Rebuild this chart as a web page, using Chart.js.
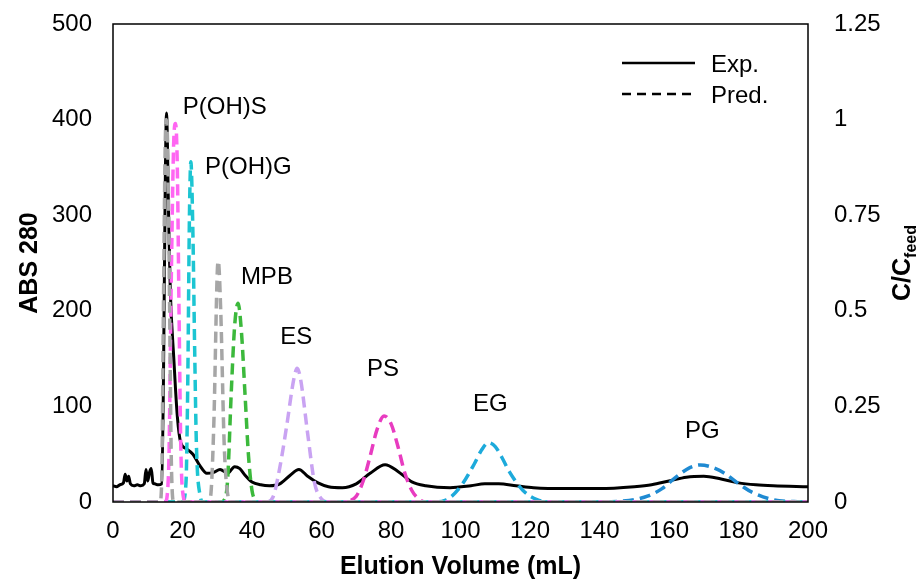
<!DOCTYPE html>
<html>
<head>
<meta charset="utf-8">
<script src="https://cdn.jsdelivr.net/npm/chart.js@4.4.1/dist/chart.umd.min.js"></script>
<style>
html,body{margin:0;padding:0;background:#fff;}
#wrap{width:921px;height:582px;position:relative;}
</style>
</head>
<body>
<div id="wrap"><canvas id="c" width="921" height="582"></canvas></div>
<script>
// ---- Data ----
const xTicks = [0, 20, 40, 60, 80, 100, 120, 140, 160, 180, 200];
const leftTicks = [0, 100, 200, 300, 400, 500];
const rightTicks = [0, 0.25, 0.5, 0.75, 1, 1.25];

// Experimental ABS 280 trace (left axis)
const expX = [0, 1, 2, 3, 3.5, 4, 4.5, 5, 6, 7, 8, 9, 9.5, 10, 10.5, 11, 11.5, 12, 13, 14, 14.5, 15, 15.4, 16, 16.5, 17.5, 18.5, 19.5, 21, 23, 25, 27, 29, 30.8, 33, 35, 36.5, 38, 40, 42.5, 45, 48, 51, 53.5, 56, 59, 62, 66, 70, 74, 78.3, 82, 86, 90, 97, 103, 107, 111, 116, 121, 130, 140, 150, 155, 160, 165, 170, 175, 180, 185, 190, 200];
const expY = [17, 16, 18, 20, 29, 22, 27, 19, 17, 18, 17, 19, 34, 22, 31, 35, 20, 19, 18, 19, 120, 320, 407, 300, 220, 150, 90, 62, 56, 50, 38, 30, 31, 34, 30, 37, 35, 28, 21, 18, 17, 19, 28, 34, 27, 20, 16, 15, 19, 30, 39, 32, 21, 17, 15, 17, 19, 19, 17, 15, 14, 14, 16, 18, 22, 26, 27, 24, 20, 18, 17, 16];

// Predicted C/Cfeed peaks (right axis)
const predNames = ["Gray1", "P(OH)S", "P(OH)G", "Gray2", "MPB", "ES", "PS", "EG", "PG"];
const gray1X = [0, 13.5, 14, 14.5, 15, 15.3, 15.8, 16.3, 16.8, 17.5, 200];
const gray1Y = [0, 0, 0.05, 0.5, 0.92, 1.0, 0.9, 0.5, 0.1, 0, 0];
const pohsX = [0, 15, 16, 16.8, 17.5, 18, 18.5, 19, 19.5, 20, 21, 200];
const pohsY = [0, 0, 0.08, 0.6, 0.95, 0.99, 0.88, 0.5, 0.15, 0.03, 0, 0];
const pohgX = [0, 20, 21, 21.5, 22, 22.4, 23, 23.5, 24, 25, 26, 200];
const pohgY = [0, 0, 0.05, 0.3, 0.75, 0.89, 0.7, 0.4, 0.15, 0.02, 0, 0];
const gray2X = [0, 27, 28, 29, 30, 30.3, 31, 32, 33, 34, 200];
const gray2Y = [0, 0, 0.01, 0.2, 0.6, 0.63, 0.5, 0.15, 0.02, 0, 0];
const mpbX = [0, 31, 32, 33, 34, 35, 36, 37, 38, 39, 40, 41, 42, 200];
const mpbY = [0, 0, 0.005, 0.06, 0.28, 0.46, 0.52, 0.44, 0.28, 0.12, 0.03, 0.005, 0, 0];
const esX = [0, 44, 46, 48, 50, 52, 53, 54, 56, 58, 60, 62, 200];
const esY = [0, 0, 0.012, 0.09, 0.2, 0.32, 0.35, 0.32, 0.18, 0.05, 0.008, 0, 0];
const psX = [0, 66, 68, 70, 72, 74, 76, 78, 80, 82, 84, 86, 88, 90, 200];
const psY = [0, 0, 0.003, 0.015, 0.055, 0.12, 0.19, 0.225, 0.205, 0.145, 0.075, 0.03, 0.008, 0, 0];
const egX = [0, 92, 96, 100, 104, 106, 108, 110, 112, 114, 118, 122, 126, 200];
const egY = [0, 0, 0.006, 0.04, 0.1, 0.135, 0.155, 0.145, 0.115, 0.08, 0.03, 0.006, 0, 0];
const pgX = [0, 140, 146, 150, 154, 158, 162, 166, 169, 172, 176, 180, 184, 190, 196, 200];
const pgY = [0, 0, 0.002, 0.006, 0.016, 0.035, 0.065, 0.09, 0.097, 0.092, 0.075, 0.048, 0.025, 0.006, 0.001, 0];

// Peak labels
const labelText = ["P(OH)S", "P(OH)G", "MPB", "ES", "PS", "EG", "PG"];
const labelX = [20.1, 26.5, 36.8, 48.1, 73.1, 103.6, 164.6];
const labelY = [413, 350, 235, 172, 139, 102.5, 74];

// ---- Build chart ----
const pts = (xs, ys) => xs.map((x, i) => ({x: x, y: ys[i]}));
const predColors = ["#a6a6a6", "#ff66f2", "#1cc5d2", "#a6a6a6", "#3cb93c", "#c9a3f2", "#e83cc0", "#1daadb", "#1f8ad2"];
const predSeries = [[gray1X, gray1Y], [pohsX, pohsY], [pohgX, pohgY], [gray2X, gray2Y], [mpbX, mpbY], [esX, esY], [psX, psY], [egX, egY], [pgX, pgY]];

const datasets = predSeries.map((s, i) => ({
  label: predNames[i],
  data: pts(s[0], s[1]),
  yAxisID: 'y1',
  borderColor: predColors[i],
  borderWidth: 3.5,
  borderDash: [11, 6],
  pointRadius: 0,
  fill: false,
  cubicInterpolationMode: 'monotone'
}));
datasets.push({
  label: 'Exp.',
  data: pts(expX, expY),
  yAxisID: 'y',
  borderColor: '#000000',
  borderWidth: 3,
  pointRadius: 0,
  fill: false,
  cubicInterpolationMode: 'monotone'
});

const FONT = "'Liberation Sans', Arial, sans-serif";
const FS = 24;

const decor = {
  id: 'decor',
  afterDatasetsDraw(chart) {
    const ctx = chart.ctx;
    const a = chart.chartArea;
    const xs = chart.scales.x, ys = chart.scales.y;
    ctx.save();
    // plot box
    ctx.strokeStyle = '#000';
    ctx.lineWidth = 1.5;
    ctx.strokeRect(a.left, a.top, a.right - a.left, a.bottom - a.top);
    // peak labels
    ctx.fillStyle = '#000';
    ctx.font = FS + "px " + FONT;
    ctx.textBaseline = 'middle';
    ctx.textAlign = 'left';
    labelText.forEach((t, i) => {
      ctx.fillText(t, xs.getPixelForValue(labelX[i]), ys.getPixelForValue(labelY[i]));
    });
    // legend
    ctx.lineWidth = 2.5;
    ctx.strokeStyle = '#000';
    ctx.beginPath(); ctx.moveTo(622, 63); ctx.lineTo(695, 63); ctx.stroke();
    ctx.setLineDash([9, 6]);
    ctx.beginPath(); ctx.moveTo(622, 94); ctx.lineTo(697, 94); ctx.stroke();
    ctx.setLineDash([]);
    ctx.fillText('Exp.', 711, 65);
    ctx.fillText('Pred.', 711, 96);
    // axis titles
    ctx.font = "bold 25px " + FONT;
    ctx.textAlign = 'center';
    ctx.textBaseline = 'middle';
    ctx.fillText('Elution Volume (mL)', (a.left + a.right) / 2, 567);
    ctx.save();
    ctx.translate(30, (a.top + a.bottom) / 2);
    ctx.rotate(-Math.PI / 2);
    ctx.fillText('ABS 280', 0, 0);
    ctx.restore();
    // right title C/C_feed
    ctx.save();
    const mid = (a.top + a.bottom) / 2;
    ctx.translate(910, mid);
    ctx.rotate(-Math.PI / 2);
    ctx.textBaseline = 'alphabetic';
    ctx.textAlign = 'left';
    ctx.font = "bold 25px " + FONT;
    const w1 = ctx.measureText('C/C').width;
    ctx.font = "bold 16px " + FONT;
    const w2 = ctx.measureText('feed').width;
    const start = -(w1 + w2) / 2;
    ctx.font = "bold 25px " + FONT;
    ctx.fillText('C/C', start, 0);
    ctx.font = "bold 16px " + FONT;
    ctx.fillText('feed', start + w1, 6);
    ctx.restore();
    ctx.restore();
  }
};

const vFit = (w) => (s) => { s.width = w; s.paddingTop = 0; s.paddingBottom = 0; };

new Chart(document.getElementById('c'), {
  type: 'line',
  data: { datasets: datasets },
  options: {
    responsive: false,
    animation: false,
    layout: { padding: { top: 24, left: 0, right: 0, bottom: 0 } },
    plugins: { legend: { display: false }, tooltip: { enabled: false } },
    scales: {
      x: {
        type: 'linear', min: 0, max: 200,
        afterBuildTicks: s => { s.ticks = xTicks.map(v => ({value: v})); },
        afterFit: s => { s.height = 80; s.paddingLeft = 0; s.paddingRight = 0; },
        grid: { display: false, drawTicks: false },
        border: { display: false },
        ticks: { color: '#000', font: { family: FONT, size: FS }, padding: 15, maxRotation: 0 }
      },
      y: {
        type: 'linear', position: 'left', min: 0, max: 500,
        afterBuildTicks: s => { s.ticks = leftTicks.map(v => ({value: v})); },
        afterFit: vFit(113),
        grid: { display: false, drawTicks: false },
        border: { display: false },
        ticks: { color: '#000', font: { family: FONT, size: FS }, padding: 21 }
      },
      y1: {
        type: 'linear', position: 'right', min: 0, max: 1.25,
        afterBuildTicks: s => { s.ticks = rightTicks.map(v => ({value: v})); },
        afterFit: vFit(113),
        grid: { display: false, drawTicks: false },
        border: { display: false },
        ticks: { color: '#000', font: { family: FONT, size: FS }, padding: 26,
          callback: v => String(v) }
      }
    }
  },
  plugins: [decor]
});
</script>
</body>
</html>
